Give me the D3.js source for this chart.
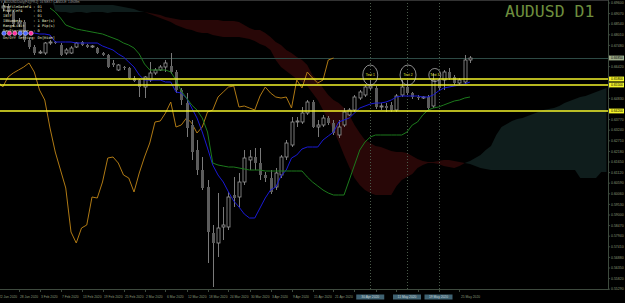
<!DOCTYPE html>
<html>
<head>
<meta charset="UTF-8" />
<style>
  body { margin: 0; background: #000; }
  svg { display: block; }
  text { font-family: "Liberation Sans", Arial, sans-serif; }
  .mono { font-family: "DejaVu Sans Mono", monospace; }
</style>
</head>
<body>
<svg></svg>
<script src="https://d3js.org/d3.v7.min.js"></script>
<script>
const W = 625, H = 303, plotR = 608, plotB = 289;

// daily bars, index 0 = 22 Jan 2020
const open = [.6950,.6935,.6945,.6915,.6855,.6865,.6775,.6740,.6710,.6710,
  .6760,.6765,.6750,.6710,.6710,.6740,.6765,.6750,.6740,.6735,
  .6710,.6700,.6660,.6625,.6640,.6635,.6585,.6575,.6540,.6575,
  .6610,.6625,.6640,.6645,.6615,.6525,.6460,.6350,.6225,.6125,
  .6040,.5810,.5760,.5840,.5840,.6000,.5990,.6065,.6175,.6190,
  .6160,.6100,.6085,.6040,.6100,.6190,.6250,.6365,.6365,.6410,
  .6465,.6340,.6350,.6385,.6360,.6300,.6350,.6400,.6425,.6485,
  .6500,.6535,.6535,.6440,.6445,.6450,.6425,.6500,.6540,.6510,
  .6490,.6485,.6490,.6445,.6575,.6575,.6615,.6590,.6560,.6565,.6675];
const high = [.6965,.6960,.6955,.6925,.6885,.6875,.6785,.6750,.6725,.6765,
  .6775,.6770,.6760,.6735,.6745,.6765,.6770,.6755,.6750,.6740,
  .6715,.6705,.6675,.6655,.6645,.6640,.6595,.6580,.6595,.6665,
  .6635,.6650,.6675,.6710,.6625,.6535,.6510,.6375,.6275,.6190,
  .6075,.5850,.6010,.5940,.6015,.6090,.6110,.6225,.6225,.6235,
  .6235,.6115,.6125,.6135,.6200,.6275,.6390,.6390,.6440,.6475,
  .6475,.6375,.6400,.6395,.6375,.6375,.6435,.6435,.6500,.6525,
  .6550,.6575,.6545,.6460,.6460,.6465,.6505,.6575,.6575,.6515,
  .6500,.6495,.6500,.6610,.6585,.6625,.6635,.6600,.6585,.6700,.6695];
const low = [.6915,.6920,.6905,.6840,.6840,.6765,.6730,.6700,.6705,.6700,
  .6750,.6755,.6695,.6700,.6705,.6735,.6745,.6735,.6735,.6705,
  .6695,.6635,.6640,.6620,.6625,.6580,.6565,.6490,.6485,.6565,
  .6600,.6620,.6615,.6605,.6510,.6450,.6290,.6175,.6100,.6025,
  .5660,.5540,.5690,.5775,.5825,.5940,.5940,.6050,.6125,.6125,
  .6075,.6065,.6005,.6025,.6085,.6175,.6240,.6340,.6355,.6400,
  .6335,.6290,.6340,.6350,.6300,.6285,.6340,.6395,.6415,.6475,
  .6490,.6525,.6430,.6425,.6415,.6415,.6415,.6490,.6500,.6480,
  .6475,.6480,.6425,.6435,.6525,.6525,.6575,.6550,.6550,.6555,.6660];
const close = [.6935,.6945,.6915,.6855,.6865,.6775,.6740,.6710,.6715,.6760,
  .6765,.6760,.6700,.6725,.6735,.6760,.6750,.6740,.6745,.6710,
  .6700,.6640,.6650,.6650,.6635,.6585,.6570,.6540,.6590,.6610,
  .6625,.6640,.6660,.6615,.6525,.6475,.6335,.6215,.6125,.6035,
  .5815,.5760,.5835,.5850,.5990,.5985,.6065,.6185,.6190,.6160,
  .6100,.6085,.6015,.6110,.6190,.6260,.6365,.6370,.6410,.6465,
  .6340,.6350,.6385,.6360,.6310,.6340,.6415,.6425,.6490,.6515,
  .6540,.6545,.6440,.6445,.6435,.6425,.6495,.6540,.6510,.6490,
  .6485,.6490,.6435,.6575,.6535,.6615,.6585,.6560,.6575,.6675,.6685];

// Ichimoku lines (null = not drawn)
const tenkan = [null,null,null,null,null,
  .6810,.6810,.6810,.6805,.6805,.6800,.6765,.6765,.6765,.6765,
  .6760,.6760,.6760,.6760,.6760,.6745,.6735,.6725,.6705,.6690,
  .6665,.6640,.6600,.6575,.6575,.6575,.6575,.6565,.6565,.6515,
  .6510,.6485,.6435,.6385,.6315,.6235,.6150,.6100,.6065,.6015,
  .5970,.5940,.5905,.5885,.5885,.5935,.5985,.6025,.6040,.6095,
  .6125,.6185,.6200,.6230,.6240,.6240,.6240,.6275,.6295,.6315,
  .6365,.6375,.6385,.6410,.6435,.6445,.6455,.6460,.6460,.6465,
  .6475,.6490,.6495,.6495,.6495,.6495,.6490,.6490,.6500,.6520,
  .6535,.6540,.6545,.6550,.6555,.6565];
const kijun = [null,null,null,null,null,null,null,null,null,null,
  .6935,.6915,.6885,.6850,.6840,.6830,.6825,.6820,.6815,.6810,
  .6805,.6795,.6785,.6775,.6760,.6750,.6735,.6705,.6655,.6625,
  .6625,.6625,.6625,.6615,.6575,.6520,.6485,.6450,.6425,.6385,
  .6315,.6160,.6150,.6145,.6140,.6140,.6135,.6130,.6125,.6125,
  .6125,.6120,.6120,.6120,.6120,.6120,.6120,.6120,.6120,.6090,
  .6065,.6045,.6025,.6010,.6000,.6000,.6000,.6075,.6150,.6225,
  .6265,.6290,.6300,.6300,.6300,.6300,.6300,.6300,.6315,.6350,
  .6365,.6400,.6425,.6435,.6440,.6450,.6460,.6470,.6475,.6485,.6490];

// cloud spans, first value at bar 10, last at bar 116 (26 bars ahead)
const cloudStart = 10;
const spanA = [.7050,.6950,.6950,.6950,.6950,.6950,.6950,.6950,.6950,.6950,
  .6950,.6950,.6950,.6945,.6940,.6935,.6930,.6920,.6915,.6905,
  .6895,.6885,.6875,.6865,.6850,.6840,.6830,.6825,.6815,.6810,
  .6810,.6800,.6795,.6790,.6790,.6790,.6790,.6785,.6780,.6770,
  .6755,.6745,.6725,.6675,.6640,.6620,.6600,.6580,.6565,.6545,
  .6510,.6475,.6425,.6375,.6325,.6265,.6200,.6140,.6085,.6050,
  .6025,.6010,.6000,.6000,.6000,.6000,.6045,.6075,.6090,.6105,
  .6135,.6150,.6160,.6160,.6155,.6145,.6140,.6135,.6145,.6160,
  .6170,.6185,.6200,.6225,.6245,.6300,.6340,.6355,.6370,.6380,
  .6385,.6395,.6405,.6415,.6425,.6430,.6435,.6445,.6460,.6470,
  .6480,.6490,.6495,.6505,.6515,.6525,.6535];
const spanB = [.7015,.6920,.6915,.6915,.6910,.6915,.6915,.6910,.6915,.6915,
  .6915,.6910,.6915,.6915,.6915,.6915,.6915,.6915,.6915,.6910,
  .6905,.6900,.6890,.6885,.6880,.6875,.6875,.6875,.6875,.6875,
  .6875,.6875,.6875,.6870,.6870,.6870,.6865,.6850,.6835,.6825,
  .6825,.6810,.6790,.6765,.6750,.6725,.6710,.6690,.6675,.6650,
  .6600,.6575,.6535,.6500,.6475,.6460,.6435,.6400,.6350,.6310,
  .6275,.6260,.6245,.6240,.6230,.6220,.6215,.6215,.6210,.6195,
  .6180,.6170,.6165,.6165,.6170,.6175,.6175,.6170,.6165,.6160,
  .6155,.6145,.6135,.6130,.6125,.6125,.6125,.6125,.6125,.6125,
  .6125,.6125,.6125,.6125,.6125,.6125,.6125,.6125,.6125,.6125,
  .6125,.6085,.6085,.6085,.6085,.6115,.6115];

const priceTicks = [0.6960,0.6907,0.6854,0.6801,0.6748,0.6695,0.6642,0.6589,0.6536,
  0.6483,0.6430,0.6377,0.6324,0.6271,0.6218,0.6165,0.6112,0.6059,0.6006,0.5953,
  0.5900,0.5847,0.5794,0.5741,0.5688,0.5635,0.5582,0.5529];
const dateTickBars = [0,4,8,12,16,20,24,28,32,36,40,44,48,52,56,60,64,68,72,76,80,84,88];
const dateTickLabels = ["22 Jan 2020","28 Jan 2020","3 Feb 2020","7 Feb 2020","13 Feb 2020",
  "19 Feb 2020","25 Feb 2020","2 Mar 2020","6 Mar 2020","12 Mar 2020","18 Mar 2020",
  "24 Mar 2020","30 Mar 2020","3 Apr 2020","9 Apr 2020","15 Apr 2020","21 Apr 2020",
  "27 Apr 2020","1 May 2020","7 May 2020","13 May 2020","19 May 2020","25 May 2020"];

const levels = [0.6580, 0.6550, 0.6420];
const tests = [{bar: 71, label: "Test 1", rx: 7.5, ry: 10}, {bar: 78.2, label: "Test 2", rx: 8, ry: 10},
  {bar: 83.3, label: "Test 3", rx: 6, ry: 6.5}];
const vlineBars = [71, 78, 84];
const vlineLabels = ["30 Apr 2020", "11 May 2020", "19 May 2020"];
const infoLines = ["ProfileDateF4 : 01", "ProfileF4     : 01", "IBTF          : 01",
  "IBNumbers     : 1 Bar(s)", "RangeLimit    : 4 Pip(s)", "DayStartHour  : 0"];
const dotColors = ["#4f6bff", "#ff2f9a", "#ff2f9a", "#4f6bff", "#4f6bff", "#ff2f9a"];

const svg = d3.select("svg").attr("width", W).attr("height", H);
svg.append("rect").attr("width", W).attr("height", H).attr("fill", "#000");

const x = d3.scaleLinear().domain([0, 116]).range([-2.5, 606.5]);
const y = d3.scaleLinear().domain([0.6975, 0.5525]).range([0, 290]);

svg.append("defs").append("clipPath").attr("id", "plot")
  .append("rect").attr("x", 0).attr("y", 0).attr("width", plotR).attr("height", plotB);

const g = svg.append("g").attr("clip-path", "url(#plot)");

// cloud
const cloud = spanA.map((a, k) => ({i: cloudStart + k, a: a, b: spanB[k]}));
g.append("path").datum(cloud)
  .attr("fill", "#0f1d1c")
  .attr("d", d3.area().x(d => x(d.i)).y0(d => y(d.b)).y1(d => y(Math.max(d.a, d.b))));
g.append("path").datum(cloud)
  .attr("fill", "#280707")
  .attr("d", d3.area().x(d => x(d.i)).y0(d => y(d.b)).y1(d => y(Math.min(d.a, d.b))));

// horizontal current price line
const lastY = Math.round(y(close[close.length - 1])) + 0.5;
g.append("line").attr("x1", 0).attr("x2", plotR).attr("y1", lastY).attr("y2", lastY)
  .attr("stroke", "#2d4a45").attr("stroke-width", 1);

// vertical dotted lines
g.selectAll(".vline").data(vlineBars).join("line")
  .attr("x1", d => Math.round(x(d)) + 0.5).attr("x2", d => Math.round(x(d)) + 0.5)
  .attr("y1", 0).attr("y2", plotB)
  .attr("stroke", "#4a5a4a").attr("stroke-width", 1).attr("stroke-dasharray", "1,2");

// chikou (close shifted back 26)
const chikou = close.map((c, i) => ({i: i - 26, v: c})).filter(d => d.i >= -1);
g.append("path").datum(chikou)
  .attr("fill", "none").attr("stroke", "#b07a14").attr("stroke-width", 1)
  .attr("d", d3.line().x(d => x(d.i)).y(d => y(d.v)));

// candles
const bars = d3.range(open.length);
g.selectAll(".wick").data(bars).join("line")
  .attr("x1", i => Math.round(x(i)) + 0.5).attr("x2", i => Math.round(x(i)) + 0.5)
  .attr("y1", i => y(high[i])).attr("y2", i => y(low[i]))
  .attr("stroke", "#7a7a7a").attr("stroke-width", 1);
g.selectAll(".body").data(bars).join("rect")
  .attr("x", i => Math.round(x(i)) - 1)
  .attr("width", 3)
  .attr("y", i => y(Math.max(open[i], close[i])))
  .attr("height", i => Math.max(1, Math.abs(y(open[i]) - y(close[i]))))
  .attr("fill", i => close[i] >= open[i] ? "#000" : "#5c5c5c")
  .attr("stroke", i => close[i] >= open[i] ? "#9a9a9a" : "none")
  .attr("stroke-width", 0.8);

// tenkan & kijun
const lineGen = d3.line().defined(d => d.v != null).x(d => x(d.i)).y(d => y(d.v));
g.append("path").datum(tenkan.map((v, i) => ({i, v})))
  .attr("fill", "none").attr("stroke", "#1a1ad6").attr("stroke-width", 1).attr("d", lineGen);
g.append("path").datum(kijun.map((v, i) => ({i, v})))
  .attr("fill", "none").attr("stroke", "#1c7a1c").attr("stroke-width", 1).attr("d", lineGen);

// support / resistance levels
g.selectAll(".lvl").data(levels).join("line")
  .attr("x1", 0).attr("x2", plotR)
  .attr("y1", d => y(d)).attr("y2", d => y(d))
  .attr("stroke", "#f5f52a").attr("stroke-width", 1.6);

// test markers
const tg = g.selectAll(".test").data(tests).join("g")
  .attr("transform", d => `translate(${x(d.bar)},${y(0.6580) - 4})`);
tg.append("ellipse").attr("rx", d => d.rx).attr("ry", d => d.ry)
  .attr("fill", "none").attr("stroke", "#c8c8c8").attr("stroke-width", 0.7);
tg.append("text").attr("text-anchor", "middle").attr("dy", 1.2)
  .attr("font-size", 3.4).attr("fill", "#e8e830").text(d => d.label);

// frame and axes
svg.append("line").attr("x1", 0).attr("x2", plotR + 1).attr("y1", plotB + 0.5).attr("y2", plotB + 0.5)
  .attr("stroke", "#3e4a3e");
svg.append("line").attr("x1", plotR + 0.5).attr("x2", plotR + 0.5).attr("y1", 0).attr("y2", plotB + 1)
  .attr("stroke", "#3e4a3e");
svg.append("line").attr("x1", 0).attr("x2", plotR).attr("y1", 0.5).attr("y2", 0.5)
  .attr("stroke", "#333");

const axisColor = "#8a9a7a";
const hl = [{v: close[close.length - 1], bg: "#9fae8c"}].concat(levels.map(v => ({v, bg: "#f5f52a"})));
// plain price labels hidden where a highlighted label sits on top
const shownTicks = priceTicks.filter(t => hl.every(h => Math.abs(y(t) - y(h.v)) > 4.5));
svg.selectAll(".pt").data(shownTicks).join("text")
  .attr("x", 611).attr("y", d => y(d) + 1.2)
  .attr("font-size", 3.5).attr("fill", axisColor)
  .text(d => d.toFixed(5));
svg.selectAll(".ptick").data(priceTicks).join("line")
  .attr("x1", plotR).attr("x2", plotR + 2).attr("y1", d => y(d)).attr("y2", d => y(d))
  .attr("stroke", "#3e4a3e");

// highlighted price labels
const hg = svg.selectAll(".hl").data(hl).join("g")
  .attr("transform", d => `translate(609,${y(d.v)})`);
hg.append("rect").attr("x", 0).attr("y", -2.4).attr("width", 15).attr("height", 4.8).attr("fill", d => d.bg);
hg.append("text").attr("x", 2).attr("y", 1.1).attr("font-size", 3.3).attr("fill", "#000")
  .text(d => d.v.toFixed(5));

// date labels, hidden under the vertical-line boxes
const shownDates = dateTickBars.map((b, k) => ({b, t: dateTickLabels[k]}))
  .filter(d => vlineBars.every(v => x(d.b) + 1.5 > x(v) + 14 || x(d.b) + 18 < x(v) - 14));
svg.selectAll(".dt").data(shownDates).join("text")
  .attr("x", d => x(d.b) + 1.5).attr("y", 298)
  .attr("font-size", 3.3).attr("fill", axisColor)
  .text(d => d.t);
svg.selectAll(".dtick").data(dateTickBars).join("line")
  .attr("x1", i => Math.round(x(i)) + 0.5).attr("x2", i => Math.round(x(i)) + 0.5)
  .attr("y1", plotB).attr("y2", plotB + 3).attr("stroke", "#3e4a3e");

const vl = svg.selectAll(".vl").data(vlineBars).join("g")
  .attr("transform", d => `translate(${x(d)},297)`);
vl.append("rect").attr("x", -14).attr("y", -2.5).attr("width", 28).attr("height", 5).attr("fill", "#3f6272");
vl.append("text").attr("text-anchor", "middle").attr("y", 1.2).attr("font-size", 3.3)
  .attr("fill", "#c8d4d8").text((d, k) => vlineLabels[k]);

// title
svg.append("text").attr("class", "mono").attr("x", 505).attr("y", 17).attr("font-size", 16.5)
  .attr("fill", "#6e8e3e").text("AUDUSD D1");

// info panel
svg.append("text").attr("x", 1).attr("y", 3).attr("font-size", 3.2).attr("fill", "#9a9a9a")
  .text("▾ AUDUSDDaily(F4)[PRJ]: 16 NEXT CANDLE: 14h08m");
svg.selectAll(".info").data(infoLines).join("text")
  .attr("class", "mono")
  .attr("x", 3).attr("y", (d, k) => 7.5 + k * 4.9)
  .attr("font-size", 3.6).attr("fill", "#e6e6c8")
  .style("white-space", "pre")
  .text(d => d);
svg.selectAll(".dot").data(dotColors).join("circle")
  .attr("cx", (d, k) => 4 + k * 5.4).attr("cy", 33.3).attr("r", 2.2)
  .attr("fill", d => d).attr("stroke", "#fff").attr("stroke-width", 0.4);
svg.append("text").attr("class", "mono").attr("x", 3).attr("y", 39).attr("font-size", 3.6).attr("fill", "#e6e6c8")
  .style("white-space", "pre").text("On/Off Setting: On[Hide]");
</script>
</body>
</html>
